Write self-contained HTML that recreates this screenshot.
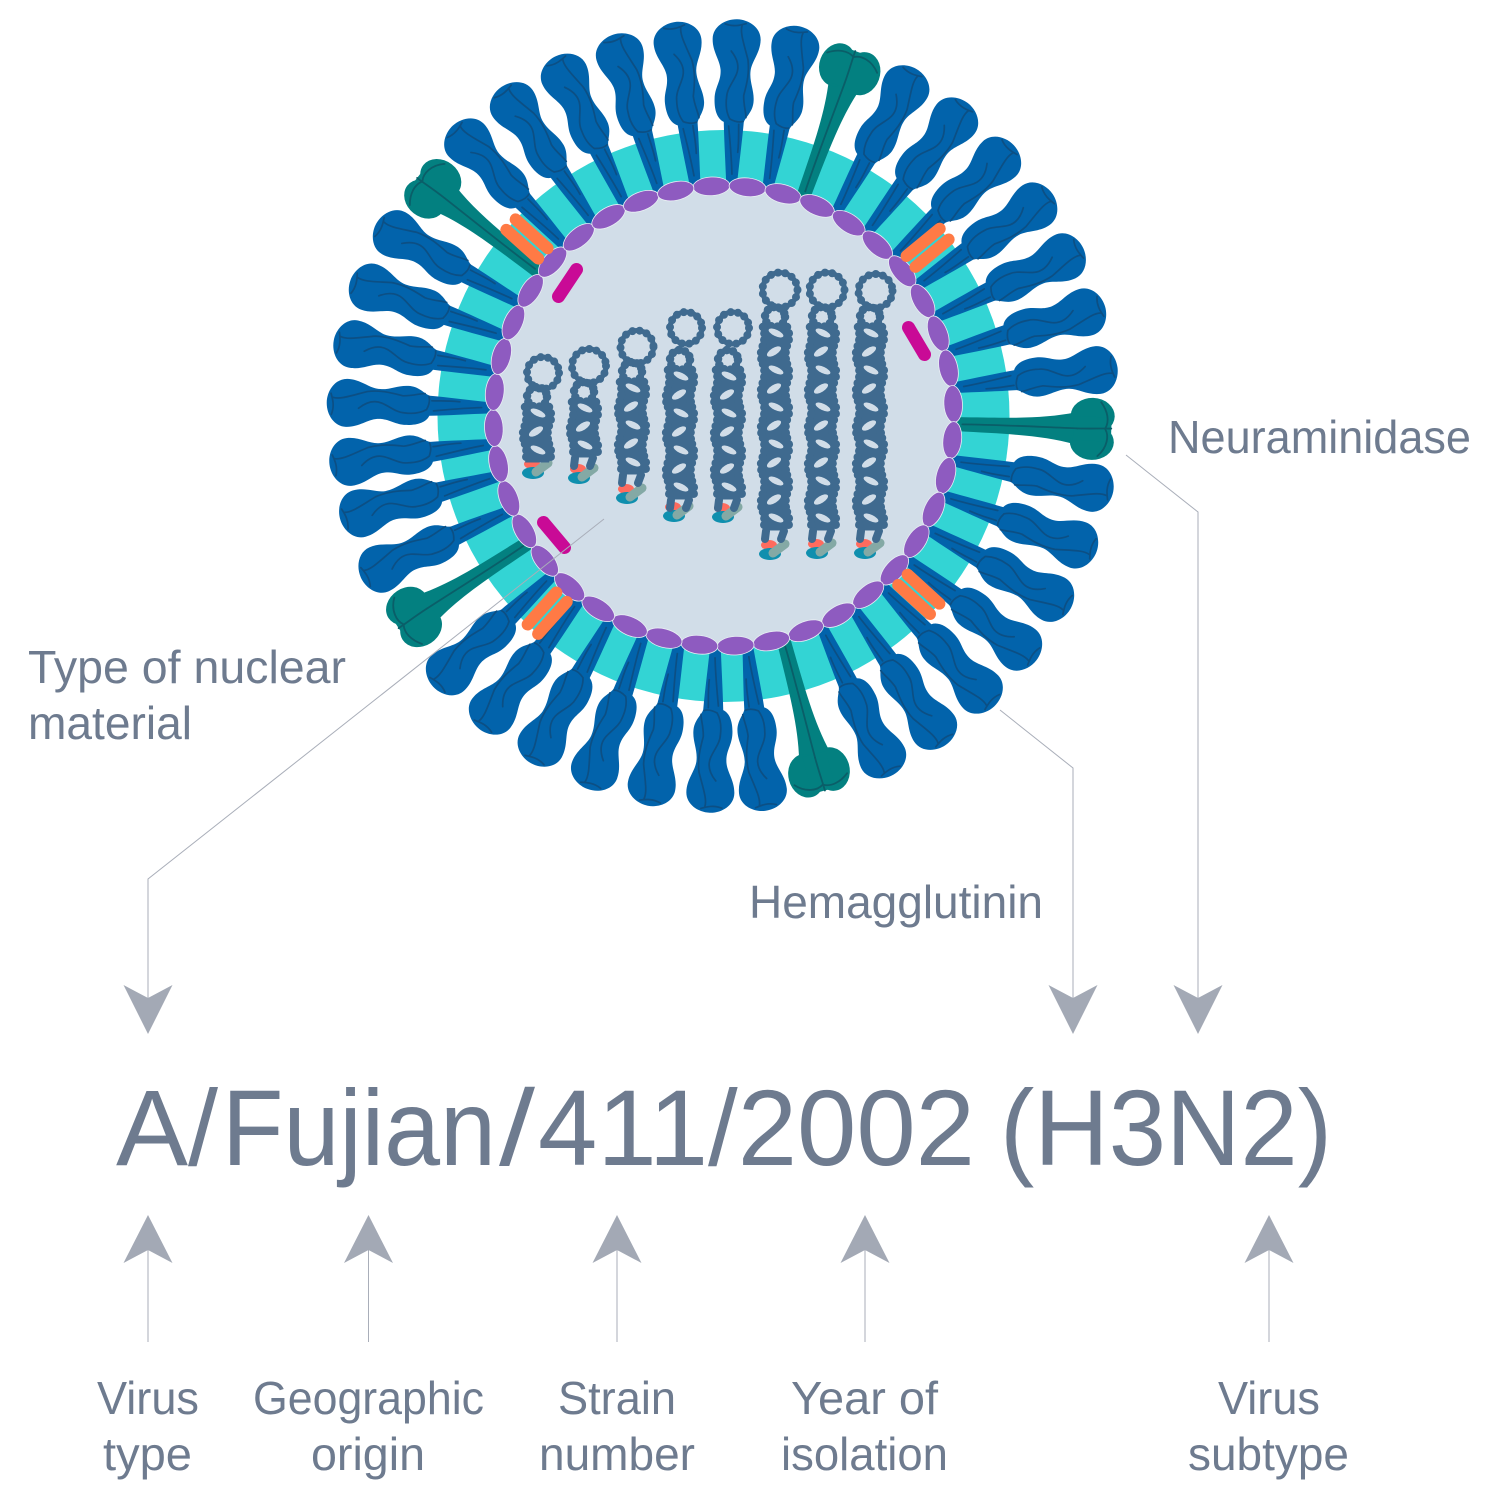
<!DOCTYPE html>
<html><head><meta charset="utf-8"><style>
html,body{margin:0;padding:0;background:#fff}
svg{display:block}
text{font-family:"Liberation Sans",sans-serif;fill:#6e7b8f}
.l{font-size:46px}
.m{font-size:108px}
</style></head><body>
<svg width="1500" height="1500" viewBox="0 0 1500 1500" xmlns="http://www.w3.org/2000/svg">
<defs>
<g id="s">
<path fill="#0263ab" d="M-5.500,0C-7,-20 -9,-42 -10,-60C-17,-63 -20,-72 -20,-83C-20,-95 -14,-100 -15,-112C-16,-122 -24,-130 -24,-143C-24,-155 -12,-163 0,-163C12,-163 24,-155 24,-143C24,-130 16,-122 15,-112C14,-100 20,-92 19,-80C18,-70 11,-65 10,-60C9,-42 7,-20 5.500,0C4,3 -4,3 -5.500,0Z"/>
<g fill="none" stroke="#0c4f84" stroke-width="1.700" stroke-linecap="round">
<path d="M-12,-158C-4,-155 3,-157 9,-159M5,-157C3,-150 7,-140 12,-123C14,-110 12,-100 9,-87C9,-78 12,-70 12,-65"/>
<path d="M-5,-131C1,-124 4,-116 1,-108C-2,-100 -8,-93 -8,-85C-9,-75 -7,-68 -4,-63C2,-60 6,-60 9,-61"/>
<path d="M-5,-56C-3,-40 -1,-25 0,-8M5,-58C5,-50 6,-42 5,-30"/>
</g>
</g>
<g id="n">
<path fill="#038080" d="M-7,0C-8,-50 -8,-85 -16,-118L16,-118C8,-85 8,-50 7,0C5,4 -5,4 -7,0Z"/>
<ellipse cx="-13" cy="-135" rx="18" ry="22" fill="#038080"/>
<ellipse cx="13" cy="-135" rx="18" ry="22" fill="#038080"/>
<path fill="#038080" d="M-12,-154H12V-116H-12Z"/>
<g fill="none" stroke="#0a5e68" stroke-width="1.800" stroke-linecap="round">
<path d="M0,-5C-1,-40 0,-90 0,-120"/>
<path d="M0,-120C0,-135 -1,-145 -1,-154M-1,-148C-8,-152 -18,-150 -27,-143M0,-148C6,-152 18,-151 27,-141"/>
</g>
</g>
<ellipse id="e" cx="0" cy="-230" rx="18.500" ry="9.300" fill="#8e5bc0" stroke="#e9eef4" stroke-width="0.800"/>
<g id="o" stroke="#ff7a45" stroke-width="12" stroke-linecap="round">
<line x1="-7" y1="-243" x2="-7" y2="-286"/>
<line x1="7" y1="-243" x2="7" y2="-286"/>
</g>
<g id="p">
<path fill="#3f6a8f" d="M-12,0Q-9,9 -12,18.500Q-16,28 -12,37L12,37Q9,28 12,18.500Q16,9 12,0Z"/>
<path fill="none" stroke="#3f6a8f" stroke-width="8.500" stroke-linecap="round" stroke-dasharray="0 6.500" d="M-12,0Q-9,9 -12,18.500Q-16,28 -12,37"/>
<path fill="none" stroke="#3f6a8f" stroke-width="8.500" stroke-linecap="round" stroke-dasharray="0 6.500" d="M12,0Q16,9 12,18.500Q9,28 12,37"/>
<ellipse cx="1" cy="6" rx="8" ry="3.200" fill="#d1dde8" transform="rotate(25 1 6)"/>
<ellipse cx="-1" cy="24.500" rx="8" ry="3.500" fill="#d1dde8" transform="rotate(-32 -1 24.500)"/>
</g>
<g id="q">
<path fill="#3f6a8f" d="M-12,0Q-9,9 -12,18.500L12,18.500Q16,9 12,0Z"/>
<path fill="none" stroke="#3f6a8f" stroke-width="8.500" stroke-linecap="round" stroke-dasharray="0 6.500" d="M-12,0Q-9,9 -12,18.500"/>
<path fill="none" stroke="#3f6a8f" stroke-width="8.500" stroke-linecap="round" stroke-dasharray="0 6.500" d="M12,0Q16,9 12,18.500"/>
<ellipse cx="1" cy="6" rx="8" ry="3.200" fill="#d1dde8" transform="rotate(25 1 6)"/>
</g>
<g id="c" fill="none" stroke="#3f6a8f" stroke-linecap="round">
<circle cx="0" cy="-10" r="10" stroke-width="5.500"/>
<circle cx="0" cy="-10" r="10" stroke-width="8.500" stroke-dasharray="0 6.500"/>
</g>
<g id="t" fill="none" stroke="#3f6a8f" stroke-linecap="round" stroke-width="8">
<path d="M-9,0L-10,8"/><path d="M9,0L6,8"/>
</g>
<g id="b">
<ellipse cx="-1" cy="-6" rx="8" ry="5" fill="#ff6b5e"/>
<ellipse cx="0" cy="3" rx="11" ry="6" fill="#0f8fae"/>
<line x1="3" y1="2" x2="15" y2="-7" stroke="#84a9a5" stroke-width="9" stroke-linecap="round"/>
</g>
<path id="ad" d="M0,49L-24.500,0L0,13L24.500,0Z" fill="#a3a9b5"/>
<path id="au" d="M0,0L-24.500,48L0,35L24.500,48Z" fill="#a3a9b5"/>
</defs>

<circle cx="723.500" cy="416" r="286" fill="#33d4d4"/>
<circle cx="723.500" cy="416" r="229" fill="#d1dde8"/>

<g transform="translate(723.500,416)">
<use href="#s" transform="rotate(2) translate(0,-234)"/><use href="#s" transform="rotate(11) translate(0,-234)"/><use href="#n" transform="rotate(20) translate(0,-234)"/><use href="#s" transform="rotate(29) translate(0,-234)"/><use href="#s" transform="rotate(38) translate(0,-234)"/><use href="#s" transform="rotate(47) translate(0,-234)"/><use href="#s" transform="rotate(56) translate(0,-234)"/><use href="#s" transform="rotate(65) translate(0,-234)"/><use href="#s" transform="rotate(74) translate(0,-234)"/><use href="#s" transform="rotate(83) translate(0,-234)"/>
<use href="#n" transform="rotate(92) translate(0,-234)"/><use href="#s" transform="rotate(101) translate(0,-234)"/><use href="#s" transform="rotate(110) translate(0,-234)"/><use href="#s" transform="rotate(119) translate(0,-234)"/><use href="#s" transform="rotate(128) translate(0,-234)"/><use href="#s" transform="rotate(137) translate(0,-234)"/><use href="#s" transform="rotate(146) translate(0,-234)"/><use href="#s" transform="rotate(155) translate(0,-234)"/><use href="#n" transform="rotate(165) translate(0,-234)"/><use href="#s" transform="rotate(174) translate(0,-234)"/>
<use href="#s" transform="rotate(182) translate(0,-234)"/><use href="#s" transform="rotate(191) translate(0,-234)"/><use href="#s" transform="rotate(200) translate(0,-234)"/><use href="#s" transform="rotate(209) translate(0,-234)"/><use href="#s" transform="rotate(218) translate(0,-234)"/><use href="#s" transform="rotate(227) translate(0,-234)"/><use href="#n" transform="rotate(237) translate(0,-234)"/><use href="#s" transform="rotate(246) translate(0,-234)"/><use href="#s" transform="rotate(255) translate(0,-234)"/><use href="#s" transform="rotate(263) translate(0,-234)"/>
<use href="#s" transform="rotate(272) translate(0,-234)"/><use href="#s" transform="rotate(281) translate(0,-234)"/><use href="#s" transform="rotate(290) translate(0,-234)"/><use href="#s" transform="rotate(299) translate(0,-234)"/><use href="#n" transform="rotate(308) translate(0,-234)"/><use href="#s" transform="rotate(317) translate(0,-234)"/><use href="#s" transform="rotate(326) translate(0,-234)"/><use href="#s" transform="rotate(335) translate(0,-234)"/><use href="#s" transform="rotate(344) translate(0,-234)"/><use href="#s" transform="rotate(353) translate(0,-234)"/>

<use href="#e" transform="rotate(-3)"/><use href="#e" transform="rotate(6)"/><use href="#e" transform="rotate(15)"/><use href="#e" transform="rotate(24)"/><use href="#e" transform="rotate(33)"/><use href="#e" transform="rotate(42)"/><use href="#e" transform="rotate(51)"/><use href="#e" transform="rotate(60)"/><use href="#e" transform="rotate(69)"/><use href="#e" transform="rotate(78)"/>
<use href="#e" transform="rotate(87)"/><use href="#e" transform="rotate(96)"/><use href="#e" transform="rotate(105)"/><use href="#e" transform="rotate(114)"/><use href="#e" transform="rotate(123)"/><use href="#e" transform="rotate(132)"/><use href="#e" transform="rotate(141)"/><use href="#e" transform="rotate(150)"/><use href="#e" transform="rotate(159)"/><use href="#e" transform="rotate(168)"/>
<use href="#e" transform="rotate(177)"/><use href="#e" transform="rotate(186)"/><use href="#e" transform="rotate(195)"/><use href="#e" transform="rotate(204)"/><use href="#e" transform="rotate(213)"/><use href="#e" transform="rotate(222)"/><use href="#e" transform="rotate(231)"/><use href="#e" transform="rotate(240)"/><use href="#e" transform="rotate(249)"/><use href="#e" transform="rotate(258)"/>
<use href="#e" transform="rotate(267)"/><use href="#e" transform="rotate(276)"/><use href="#e" transform="rotate(285)"/><use href="#e" transform="rotate(294)"/><use href="#e" transform="rotate(303)"/><use href="#e" transform="rotate(312)"/><use href="#e" transform="rotate(321)"/><use href="#e" transform="rotate(330)"/><use href="#e" transform="rotate(339)"/><use href="#e" transform="rotate(348)"/>

<use href="#o" transform="rotate(50.500)"/><use href="#o" transform="rotate(132.400)"/><use href="#o" transform="rotate(221.800)"/><use href="#o" transform="rotate(312)"/>
</g>

<g stroke="#c90a96" stroke-width="13" stroke-linecap="round">
<line x1="558.500" y1="296.500" x2="576.500" y2="269.500"/>
<line x1="908.500" y1="327.500" x2="924.500" y2="354.500"/>
<line x1="543.500" y1="522.500" x2="564.500" y2="547.500"/>
</g>

<!-- RNA strands -->
<use href="#b" x="533" y="470"/><use href="#b" x="579" y="475"/><use href="#b" x="627" y="495"/><use href="#b" x="674" y="513"/><use href="#b" x="723" y="514"/><use href="#b" x="770" y="551"/><use href="#b" x="817" y="550"/><use href="#b" x="865" y="550"/>

<g fill="none" stroke="#3f6a8f" stroke-linecap="round">
<g stroke-width="5"><circle cx="543" cy="373" r="16"/><circle cx="589" cy="366" r="17"/><circle cx="637" cy="347" r="16.500"/><circle cx="686" cy="328" r="16"/><circle cx="733" cy="328" r="16"/><circle cx="780" cy="290" r="17.500"/><circle cx="827" cy="290" r="17.500"/><circle cx="875.500" cy="291" r="17"/></g>
<g stroke-width="8" stroke-dasharray="0 7.300"><circle cx="543" cy="373" r="16"/><circle cx="589" cy="366" r="17"/><circle cx="637" cy="347" r="16.500"/><circle cx="686" cy="328" r="16"/><circle cx="733" cy="328" r="16"/><circle cx="780" cy="290" r="17.500"/><circle cx="827" cy="290" r="17.500"/><circle cx="875.500" cy="291" r="17"/></g>
</g>

<use href="#c" x="537" y="407"/><use href="#p" x="537" y="407"/><use href="#q" x="537" y="444"/>
<use href="#c" x="584" y="402"/><use href="#p" x="584" y="402"/><use href="#q" x="584" y="439"/><use href="#t" x="584" y="458"/>
<use href="#c" x="632" y="382"/><use href="#p" x="632" y="382"/><use href="#p" x="632" y="419"/><use href="#q" x="632" y="456"/><use href="#t" x="632" y="475"/>
<use href="#c" x="680" y="370"/><use href="#p" x="680" y="370"/><use href="#p" x="680" y="407"/><use href="#p" x="680" y="444"/><use href="#q" x="680" y="481"/><use href="#t" x="680" y="500"/>
<use href="#c" x="728" y="370"/><use href="#p" x="728" y="370"/><use href="#p" x="728" y="407"/><use href="#p" x="728" y="444"/><use href="#q" x="728" y="481"/><use href="#t" x="728" y="500"/>
<use href="#c" x="775" y="327"/><use href="#p" x="775" y="327"/><use href="#p" x="775" y="364"/><use href="#p" x="775" y="401"/><use href="#p" x="775" y="438"/><use href="#p" x="775" y="475"/><use href="#q" x="775" y="512"/><use href="#t" x="775" y="531"/>
<use href="#c" x="822" y="327"/><use href="#p" x="822" y="327"/><use href="#p" x="822" y="364"/><use href="#p" x="822" y="401"/><use href="#p" x="822" y="438"/><use href="#p" x="822" y="475"/><use href="#q" x="822" y="512"/><use href="#t" x="822" y="531"/>
<use href="#c" x="870" y="327"/><use href="#p" x="870" y="327"/><use href="#p" x="870" y="364"/><use href="#p" x="870" y="401"/><use href="#p" x="870" y="438"/><use href="#p" x="870" y="475"/><use href="#q" x="870" y="512"/><use href="#t" x="870" y="531"/>

<!-- connectors -->
<g fill="none" stroke="#a9aeb9" stroke-width="1">
<path d="M604,519L148,879V1000"/>
<path d="M1000,710L1073,768V1000"/>
<path d="M1126,455L1198,512V1000"/>
<path d="M148,1250V1342M368.500,1250V1342M617,1250V1342M865,1250V1342M1269,1250V1342"/>
</g>
<use href="#ad" x="148" y="985"/><use href="#ad" x="1073" y="985"/><use href="#ad" x="1198" y="985"/>
<use href="#au" x="148" y="1215"/><use href="#au" x="368.500" y="1215"/><use href="#au" x="617" y="1215"/><use href="#au" x="865" y="1215"/><use href="#au" x="1269" y="1215"/>

<!-- labels -->
<text class="l" x="1168" y="453" textLength="303" lengthAdjust="spacingAndGlyphs">Neuraminidase</text>
<text class="l" x="749" y="918" textLength="294" lengthAdjust="spacingAndGlyphs">Hemagglutinin</text>
<text class="l" x="28" y="683" textLength="318" lengthAdjust="spacingAndGlyphs">Type of nuclear</text>
<text class="l" x="28" y="739" textLength="164" lengthAdjust="spacingAndGlyphs">material</text>
<text class="m" x="116" y="1165" textLength="102" lengthAdjust="spacingAndGlyphs">A/</text>
<text class="m" x="222" y="1165" textLength="274" lengthAdjust="spacingAndGlyphs">Fujian</text>
<text class="m" x="499" y="1165" textLength="36" lengthAdjust="spacingAndGlyphs">/</text>
<text class="m" x="538" y="1165" textLength="437" lengthAdjust="spacingAndGlyphs">411/2002</text>
<text class="m" x="1000" y="1165" textLength="332" lengthAdjust="spacingAndGlyphs">(H3N2)</text>
<text class="l" x="97" y="1414" textLength="102" lengthAdjust="spacingAndGlyphs">Virus</text>
<text class="l" x="103" y="1470" textLength="89" lengthAdjust="spacingAndGlyphs">type</text>
<text class="l" x="253" y="1414" textLength="231" lengthAdjust="spacingAndGlyphs">Geographic</text>
<text class="l" x="311" y="1470" textLength="114" lengthAdjust="spacingAndGlyphs">origin</text>
<text class="l" x="558" y="1414" textLength="118" lengthAdjust="spacingAndGlyphs">Strain</text>
<text class="l" x="539" y="1470" textLength="156" lengthAdjust="spacingAndGlyphs">number</text>
<text class="l" x="791" y="1414" textLength="147" lengthAdjust="spacingAndGlyphs">Year of</text>
<text class="l" x="781" y="1470" textLength="167" lengthAdjust="spacingAndGlyphs">isolation</text>
<text class="l" x="1218" y="1414" textLength="102" lengthAdjust="spacingAndGlyphs">Virus</text>
<text class="l" x="1188" y="1470" textLength="161" lengthAdjust="spacingAndGlyphs">subtype</text>
</svg>
</body></html>
